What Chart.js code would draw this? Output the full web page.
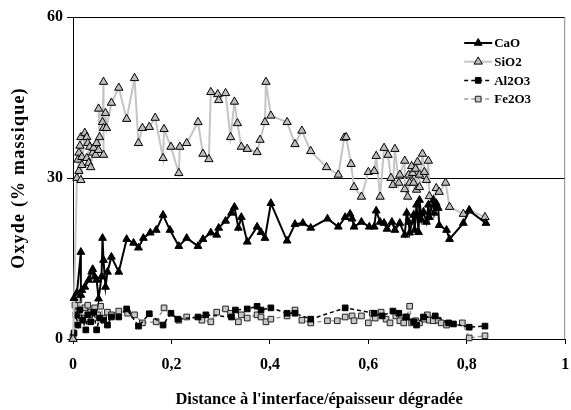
<!DOCTYPE html>
<html>
<head>
<meta charset="utf-8">
<script src="https://cdn.jsdelivr.net/npm/chart.js@4.4.0/dist/chart.umd.min.js"></script>
<style>
  html, body { margin: 0; padding: 0; background: #fff; }
</style>
</head>
<body>
<canvas id="oxydes" width="571" height="410"></canvas>
<script>
// [distance relative, % massique]
const cao = [[0.002,7.6],[0.008,8.6],[0.016,16.2],[0.016,8.2],[0.018,9.1],[0.024,9.7],[0.032,11.0],[0.038,12.5],[0.040,13.0],[0.044,11.6],[0.048,11.0],[0.052,7.5],[0.058,11.6],[0.060,18.8],[0.062,14.7],[0.066,9.7],[0.070,12.5],[0.078,15.3],[0.093,12.5],[0.109,18.6],[0.123,17.9],[0.133,17.0],[0.143,18.8],[0.157,19.8],[0.169,20.3],[0.183,23.1],[0.197,20.3],[0.215,17.3],[0.231,18.8],[0.254,17.3],[0.264,18.6],[0.280,19.8],[0.292,19.4],[0.296,20.7],[0.310,22.0],[0.322,23.5],[0.328,24.6],[0.336,20.7],[0.342,22.7],[0.354,18.1],[0.374,20.9],[0.382,19.9],[0.390,18.8],[0.402,25.3],[0.435,18.3],[0.451,21.4],[0.467,21.6],[0.483,20.7],[0.517,22.4],[0.539,20.9],[0.553,22.7],[0.563,23.3],[0.567,22.4],[0.571,20.9],[0.586,21.8],[0.602,20.9],[0.612,20.9],[0.616,23.9],[0.624,21.8],[0.632,21.6],[0.638,20.5],[0.648,21.8],[0.654,20.3],[0.664,21.6],[0.674,19.4],[0.678,23.5],[0.682,21.8],[0.684,19.8],[0.692,23.1],[0.694,20.3],[0.698,25.0],[0.702,19.9],[0.704,25.9],[0.708,22.2],[0.712,23.7],[0.718,21.8],[0.722,25.0],[0.724,22.7],[0.732,25.9],[0.734,23.5],[0.738,25.3],[0.742,24.4],[0.744,21.2],[0.759,20.3],[0.765,18.6],[0.793,21.6],[0.805,23.9],[0.839,21.6]];

const sio2 = [[0,0],[0.008,30.0],[0.012,31.3],[0.010,33.4],[0.012,34.7],[0.014,36.0],[0.016,37.6],[0.018,33.9],[0.018,32.4],[0.016,29.6],[0.024,38.4],[0.028,37.6],[0.030,36.5],[0.034,35.8],[0.028,33.7],[0.032,32.8],[0.036,32.0],[0.040,34.7],[0.042,35.6],[0.046,34.3],[0.048,36.5],[0.052,35.2],[0.054,37.6],[0.052,42.9],[0.060,40.4],[0.062,47.9],[0.062,34.3],[0.062,39.3],[0.066,42.1],[0.068,39.3],[0.078,44.0],[0.093,46.8],[0.109,41.0],[0.125,48.6],[0.133,36.5],[0.141,39.3],[0.155,39.5],[0.167,41.2],[0.183,33.7],[0.185,39.1],[0.199,35.8],[0.215,30.9],[0.217,35.8],[0.231,36.5],[0.254,40.4],[0.264,34.5],[0.276,33.5],[0.280,46.0],[0.294,45.6],[0.296,44.5],[0.310,45.8],[0.320,37.6],[0.328,44.2],[0.334,40.2],[0.342,35.8],[0.354,35.4],[0.374,34.8],[0.380,37.1],[0.390,40.4],[0.392,47.9],[0.402,41.6],[0.435,40.4],[0.451,36.3],[0.465,38.8],[0.483,35.0],[0.515,32.0],[0.539,30.6],[0.551,37.5],[0.555,37.6],[0.565,32.6],[0.571,28.3],[0.586,26.5],[0.600,31.1],[0.612,31.3],[0.616,34.1],[0.624,26.5],[0.632,35.6],[0.640,34.3],[0.646,30.0],[0.650,28.7],[0.654,35.4],[0.662,29.1],[0.664,30.6],[0.674,33.2],[0.674,27.9],[0.680,26.5],[0.682,30.6],[0.684,29.1],[0.688,32.2],[0.690,30.9],[0.692,29.1],[0.696,31.7],[0.698,27.8],[0.700,33.0],[0.704,30.6],[0.704,28.3],[0.710,34.5],[0.714,31.1],[0.718,29.6],[0.722,33.2],[0.724,26.6],[0.732,24.4],[0.738,28.1],[0.744,27.4],[0.757,29.1],[0.765,24.6],[0.793,23.3],[0.805,24.0],[0.837,22.7]];

const al2o3 = [[0.002,1.1],[0.006,4.5],[0.010,2.6],[0.014,5.4],[0.020,3.5],[0.026,1.7],[0.030,4.5],[0.036,3.2],[0.042,5.0],[0.048,1.7],[0.054,3.9],[0.062,3.5],[0.070,2.6],[0.078,4.1],[0.093,4.1],[0.109,5.6],[0.133,2.4],[0.155,4.7],[0.183,2.6],[0.199,4.8],[0.213,3.7],[0.254,4.1],[0.270,4.5],[0.322,4.1],[0.330,5.4],[0.354,5.6],[0.374,6.1],[0.382,5.4],[0.402,5.8],[0.435,4.8],[0.451,4.8],[0.483,3.7],[0.553,5.8],[0.612,4.8],[0.628,4.3],[0.650,5.2],[0.662,4.8],[0.676,4.1],[0.692,3.2],[0.698,2.6],[0.712,4.1],[0.736,4.3],[0.763,3.0],[0.773,2.8],[0.805,2.2],[0.837,2.4]];

const fe2o3 = [[0,0.4],[0.004,6.3],[0.008,5.0],[0.012,7.3],[0.018,3.9],[0.024,5.8],[0.030,6.3],[0.036,5.0],[0.044,5.8],[0.050,4.5],[0.056,6.1],[0.062,3.9],[0.070,5.0],[0.078,4.5],[0.093,5.2],[0.111,4.8],[0.125,4.5],[0.141,3.0],[0.169,3.2],[0.185,5.8],[0.215,3.5],[0.231,4.1],[0.262,3.5],[0.280,3.2],[0.292,5.0],[0.310,5.6],[0.320,4.8],[0.336,3.2],[0.342,4.5],[0.354,3.9],[0.374,4.5],[0.382,4.1],[0.392,3.2],[0.402,3.7],[0.435,4.3],[0.451,5.4],[0.465,3.5],[0.483,3.0],[0.517,3.4],[0.537,3.4],[0.553,4.1],[0.567,4.3],[0.571,3.4],[0.586,4.3],[0.600,3.0],[0.608,4.8],[0.614,3.9],[0.626,5.0],[0.636,3.7],[0.644,3.0],[0.656,4.3],[0.664,3.4],[0.672,3.0],[0.678,4.1],[0.684,6.1],[0.688,3.0],[0.696,3.4],[0.704,3.0],[0.714,3.7],[0.720,4.5],[0.724,3.5],[0.732,3.4],[0.742,3.5],[0.748,3.0],[0.759,2.6],[0.791,3.0],[0.805,0.2],[0.837,0.6]];

const seriesNames = ['CaO', 'SiO2', 'Al2O3', 'Fe2O3'];
const yTicks = [0, 30, 60];
const yTitle = 'Oxyde (% massique)';
const xTitle = "Distance à l'interface/épaisseur dégradée";

const FONT = "'Liberation Serif', 'Times New Roman', serif";

const toPoints = arr => arr.map(p => ({ x: p[0], y: p[1] }));

// légende dessinée dans la zone du graphique, trait + marqueur comme Excel
const insideLegend = {
    id: 'insideLegend',
    afterDraw(chart) {
        const ctx = chart.ctx;
        const area = chart.chartArea;
        const x0 = area.right - 101;
        const y0 = area.top + 26;
        chart.data.datasets.forEach((ds, i) => {
            const y = y0 + i * 18.7;
            ctx.save();
            ctx.strokeStyle = ds.borderColor;
            ctx.lineWidth = ds.borderWidth;
            ctx.setLineDash(ds.borderDash || []);
            ctx.beginPath();
            ctx.moveTo(x0, y);
            ctx.lineTo(x0 + 28, y);
            ctx.stroke();
            ctx.setLineDash([]);
            ctx.fillStyle = ds.pointBackgroundColor;
            ctx.strokeStyle = ds.pointBorderColor;
            ctx.lineWidth = 1;
            Chart.helpers.drawPoint(ctx, { pointStyle: ds.pointStyle, radius: ds.pointRadius, borderWidth: 1 }, x0 + 14, y);
            ctx.fillStyle = '#000';
            ctx.font = 'bold 13px ' + FONT;
            ctx.textBaseline = 'middle';
            ctx.textAlign = 'left';
            ctx.fillText(ds.label, x0 + 30, y + 1);
            ctx.restore();
        });
    }
};

// cadre haut/droite de la zone de tracé + titre vertical espacé
const frame = {
    id: 'frame',
    beforeDatasetsDraw(chart) {
        const { ctx, chartArea: a } = chart;
        ctx.save();
        ctx.strokeStyle = '#000';
        ctx.lineWidth = 1;
        ctx.beginPath();
        ctx.moveTo(a.left, a.top + 0.5);
        ctx.lineTo(a.right - 0.5, a.top + 0.5);
        ctx.stroke();
        ctx.strokeStyle = '#888';
        ctx.beginPath();
        ctx.moveTo(a.right - 0.5, a.top);
        ctx.lineTo(a.right - 0.5, a.bottom);
        ctx.stroke();

        ctx.translate(19, (a.top + a.bottom) / 2);
        ctx.rotate(-Math.PI / 2);
        ctx.fillStyle = '#000';
        ctx.font = 'bold 18px ' + FONT;
        ctx.letterSpacing = '1.2px';
        ctx.textAlign = 'center';
        ctx.textBaseline = 'middle';
        ctx.fillText(yTitle, 0, 0);
        ctx.restore();
    }
};

new Chart(document.getElementById('oxydes'), {
    type: 'scatter',
    data: {
        datasets: [{
            label: seriesNames[0],
            data: toPoints(cao),
            showLine: true,
            borderColor: '#000',
            borderWidth: 2,
            pointStyle: 'triangle',
            pointRadius: 4.5,
            pointBackgroundColor: '#000',
            pointBorderColor: '#000',
            pointBorderWidth: 1,
            clip: false
        }, {
            label: seriesNames[1],
            data: toPoints(sio2),
            showLine: true,
            borderColor: '#c4c4c4',
            borderWidth: 2,
            pointStyle: 'triangle',
            pointRadius: 4.8,
            pointBackgroundColor: '#bdbdbd',
            pointBorderColor: '#000',
            pointBorderWidth: 1,
            clip: false
        }, {
            label: seriesNames[2],
            data: toPoints(al2o3),
            showLine: true,
            borderColor: '#000',
            borderWidth: 1.5,
            borderDash: [4, 3],
            pointStyle: 'rect',
            pointRadius: 4,
            pointBackgroundColor: '#000',
            pointBorderColor: '#000',
            pointBorderWidth: 1,
            clip: false
        }, {
            label: seriesNames[3],
            data: toPoints(fe2o3),
            showLine: true,
            borderColor: '#9a9a9a',
            borderWidth: 1.5,
            borderDash: [4, 3],
            pointStyle: 'rect',
            pointRadius: 4,
            pointBackgroundColor: '#c8c8c8',
            pointBorderColor: '#222',
            pointBorderWidth: 1,
            clip: false
        }]
    },
    options: {
        responsive: false,
        animation: false,
        layout: { padding: { top: 17, right: 1, left: 0, bottom: 0 } },
        plugins: {
            legend: { display: false },
            tooltip: { enabled: false }
        },
        scales: {
            x: {
                type: 'linear',
                min: 0,
                max: 1,
                afterFit: scale => {
                    scale.height = 71;
                    scale.paddingLeft = 0;
                    scale.paddingRight = 0;
                },
                ticks: {
                    stepSize: 0.2,
                    color: '#000',
                    font: { family: FONT, size: 16, weight: 'bold' },
                    padding: 11,
                    maxRotation: 0,
                    callback: v => String(Math.round(v * 10) / 10).replace('.', ',')
                },
                grid: { drawOnChartArea: false, drawTicks: true, tickLength: 5, color: '#000' },
                border: { color: '#000', width: 1 },
                title: {
                    display: true,
                    text: xTitle,
                    color: '#000',
                    font: { family: FONT, size: 16.5, weight: 'bold' },
                    padding: { top: 0, bottom: 0 }
                }
            },
            y: {
                min: 0,
                max: 60,
                afterFit: scale => { scale.width = 73; },
                afterBuildTicks: scale => { scale.ticks = yTicks.map(v => ({ value: v })); },
                ticks: {
                    color: '#000',
                    font: { family: FONT, size: 16, weight: 'bold' },
                    padding: 4
                },
                grid: { color: '#000', drawTicks: true, tickLength: 6 },
                border: { color: '#000', width: 1 }
            }
        }
    },
    plugins: [frame, insideLegend]
});
</script>
</body>
</html>
